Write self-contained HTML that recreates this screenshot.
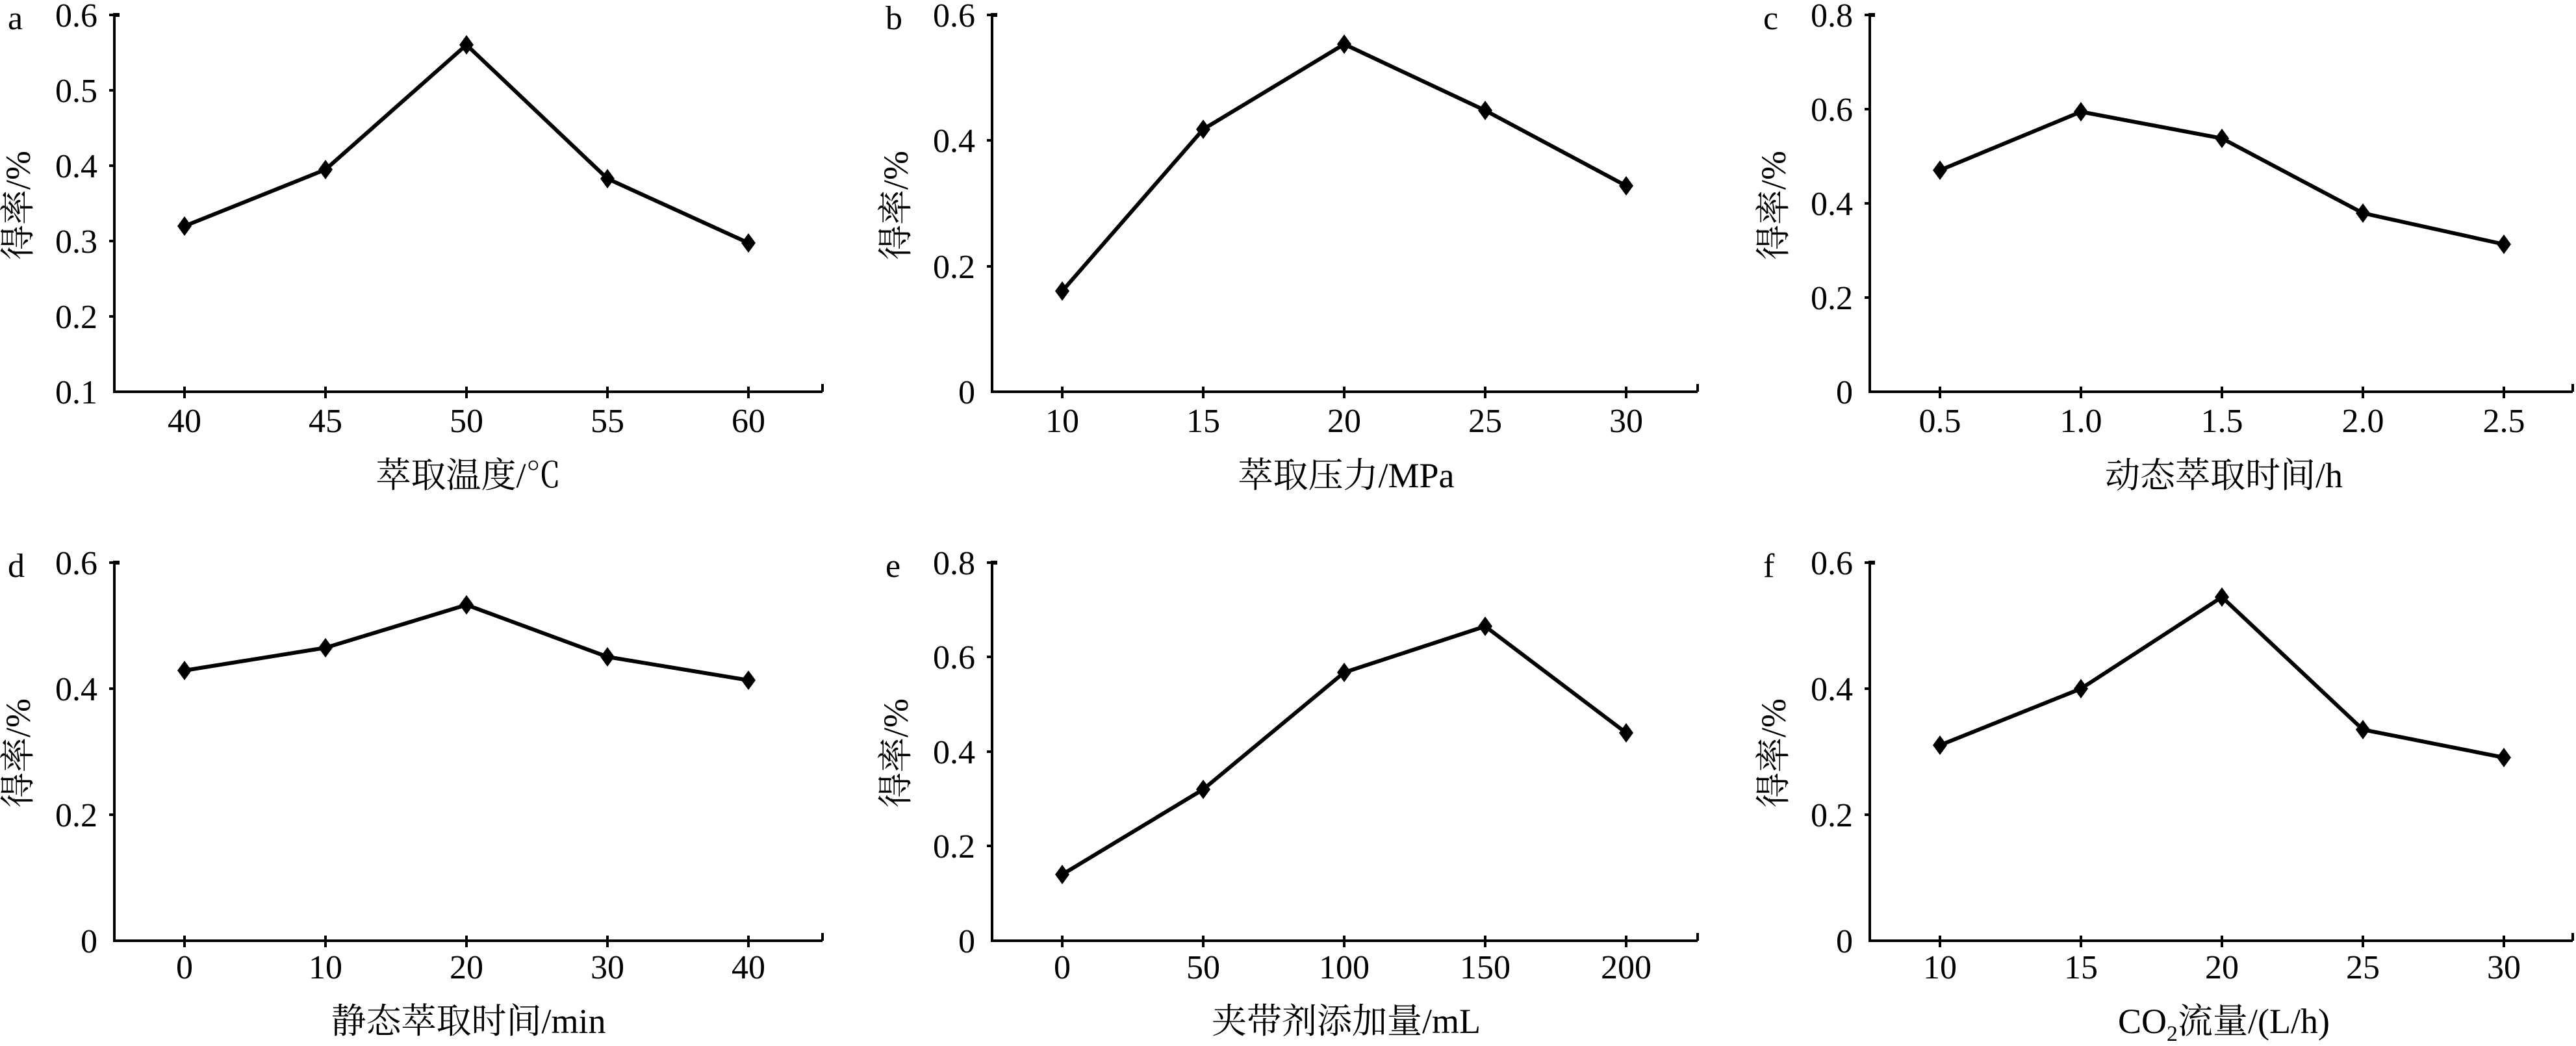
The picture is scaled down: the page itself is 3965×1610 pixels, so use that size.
<!DOCTYPE html>
<html><head><meta charset="utf-8"><style>
html,body{margin:0;padding:0;background:#fff;}
svg{display:block;}
text{font-family:"Liberation Serif","Noto Serif CJK SC",serif;fill:#000;}
.t{font-size:52px;}
.yl{font-size:52px;text-anchor:end;}
.xl{font-size:52px;text-anchor:middle;}
.ti{font-size:54px;text-anchor:middle;}
.ax{stroke:#000;stroke-width:4;fill:none;}
.ln{stroke:#000;stroke-width:6;fill:none;stroke-linejoin:round;}
</style></head><body>
<svg width="3965" height="1610" viewBox="0 0 3965 1610" xmlns="http://www.w3.org/2000/svg">
<defs><polygon id="m" points="0,-15 11,0 0,15 -11,0" fill="#000"/></defs>

<!-- a -->
<g transform="translate(176,23)">
<path class="ax" d="M0,0 V580 H1090 M-8,0 H0 M-8,116 H0 M-8,232 H0 M-8,348 H0 M-8,464 H0 M108,572 V590 M325,572 V590 M542,572 V590 M759,572 V590 M976,572 V590 M1090,568 V580"/>
<path d="M-2,0 H8" stroke="#000" stroke-width="6"/>
<text class="yl" x="-26" y="18">0.6</text><text class="yl" x="-26" y="134">0.5</text><text class="yl" x="-26" y="250">0.4</text><text class="yl" x="-26" y="366">0.3</text><text class="yl" x="-26" y="482">0.2</text><text class="yl" x="-26" y="598">0.1</text>
<text class="xl" x="108" y="642">40</text><text class="xl" x="325" y="642">45</text><text class="xl" x="542" y="642">50</text><text class="xl" x="759" y="642">55</text><text class="xl" x="976" y="642">60</text>
<text class="ti" x="545" y="727">萃取温度/℃</text>
<text class="t" x="-164" y="22">a</text>
<text class="ti" transform="translate(-130,293) rotate(-90)">得率/%</text>
<polyline class="ln" points="108,325 325,238 542,46 759,252 976,351"/>
<use href="#m" x="108" y="325"/><use href="#m" x="325" y="238"/><use href="#m" x="542" y="46"/><use href="#m" x="759" y="252"/><use href="#m" x="976" y="351"/>
</g>

<!-- b -->
<g transform="translate(1527,23)">
<path class="ax" d="M0,0 V580 H1086 M-8,0 H0 M-8,193 H0 M-8,387 H0 M108,572 V590 M325,572 V590 M542,572 V590 M759,572 V590 M976,572 V590 M1086,568 V580"/>
<path d="M-2,0 H8" stroke="#000" stroke-width="6"/>
<text class="yl" x="-26" y="18">0.6</text><text class="yl" x="-26" y="211">0.4</text><text class="yl" x="-26" y="405">0.2</text><text class="yl" x="-26" y="598">0</text>
<text class="xl" x="108" y="642">10</text><text class="xl" x="325" y="642">15</text><text class="xl" x="542" y="642">20</text><text class="xl" x="759" y="642">25</text><text class="xl" x="976" y="642">30</text>
<text class="ti" x="545" y="727">萃取压力/MPa</text>
<text class="t" x="-164" y="22">b</text>
<text class="ti" transform="translate(-130,293) rotate(-90)">得率/%</text>
<polyline class="ln" points="108,425 325,176 542,45 759,147 976,263"/>
<use href="#m" x="108" y="425"/><use href="#m" x="325" y="176"/><use href="#m" x="542" y="45"/><use href="#m" x="759" y="147"/><use href="#m" x="976" y="263"/>
</g>

<!-- c -->
<g transform="translate(2878,23)">
<path class="ax" d="M0,0 V580 H1082 M-8,0 H0 M-8,145 H0 M-8,290 H0 M-8,435 H0 M108,572 V590 M325,572 V590 M542,572 V590 M759,572 V590 M976,572 V590 M1082,568 V580"/>
<path d="M-2,0 H8" stroke="#000" stroke-width="6"/>
<text class="yl" x="-26" y="18">0.8</text><text class="yl" x="-26" y="163">0.6</text><text class="yl" x="-26" y="308">0.4</text><text class="yl" x="-26" y="453">0.2</text><text class="yl" x="-26" y="598">0</text>
<text class="xl" x="108" y="642">0.5</text><text class="xl" x="325" y="642">1.0</text><text class="xl" x="542" y="642">1.5</text><text class="xl" x="759" y="642">2.0</text><text class="xl" x="976" y="642">2.5</text>
<text class="ti" x="545" y="727">动态萃取时间/h</text>
<text class="t" x="-164" y="22">c</text>
<text class="ti" transform="translate(-130,293) rotate(-90)">得率/%</text>
<polyline class="ln" points="108,239 325,149 542,190 759,305 976,353"/>
<use href="#m" x="108" y="239"/><use href="#m" x="325" y="149"/><use href="#m" x="542" y="190"/><use href="#m" x="759" y="305"/><use href="#m" x="976" y="353"/>
</g>

<!-- d -->
<g transform="translate(176,866)">
<path class="ax" d="M0,0 V582 H1090 M-8,0 H0 M-8,194 H0 M-8,388 H0 M108,574 V592 M325,574 V592 M542,574 V592 M759,574 V592 M976,574 V592 M1090,570 V582"/>
<path d="M-2,0 H8" stroke="#000" stroke-width="6"/>
<text class="yl" x="-26" y="18">0.6</text><text class="yl" x="-26" y="212">0.4</text><text class="yl" x="-26" y="406">0.2</text><text class="yl" x="-26" y="600">0</text>
<text class="xl" x="108" y="640">0</text><text class="xl" x="325" y="640">10</text><text class="xl" x="542" y="640">20</text><text class="xl" x="759" y="640">30</text><text class="xl" x="976" y="640">40</text>
<text class="ti" x="545" y="724">静态萃取时间/min</text>
<text class="t" x="-164" y="22">d</text>
<text class="ti" transform="translate(-130,293) rotate(-90)">得率/%</text>
<polyline class="ln" points="108,166 325,131 542,65 759,145 976,181"/>
<use href="#m" x="108" y="166"/><use href="#m" x="325" y="131"/><use href="#m" x="542" y="65"/><use href="#m" x="759" y="145"/><use href="#m" x="976" y="181"/>
</g>

<!-- e -->
<g transform="translate(1527,866)">
<path class="ax" d="M0,0 V582 H1086 M-8,0 H0 M-8,145 H0 M-8,291 H0 M-8,436 H0 M108,574 V592 M325,574 V592 M542,574 V592 M759,574 V592 M976,574 V592 M1086,570 V582"/>
<path d="M-2,0 H8" stroke="#000" stroke-width="6"/>
<text class="yl" x="-26" y="18">0.8</text><text class="yl" x="-26" y="163">0.6</text><text class="yl" x="-26" y="309">0.4</text><text class="yl" x="-26" y="454">0.2</text><text class="yl" x="-26" y="600">0</text>
<text class="xl" x="108" y="640">0</text><text class="xl" x="325" y="640">50</text><text class="xl" x="542" y="640">100</text><text class="xl" x="759" y="640">150</text><text class="xl" x="976" y="640">200</text>
<text class="ti" x="545" y="724">夹带剂添加量/mL</text>
<text class="t" x="-164" y="22">e</text>
<text class="ti" transform="translate(-130,293) rotate(-90)">得率/%</text>
<polyline class="ln" points="108,480 325,349 542,169 759,98 976,262"/>
<use href="#m" x="108" y="480"/><use href="#m" x="325" y="349"/><use href="#m" x="542" y="169"/><use href="#m" x="759" y="98"/><use href="#m" x="976" y="262"/>
</g>

<!-- f -->
<g transform="translate(2878,866)">
<path class="ax" d="M0,0 V582 H1082 M-8,0 H0 M-8,194 H0 M-8,388 H0 M108,574 V592 M325,574 V592 M542,574 V592 M759,574 V592 M976,574 V592 M1082,570 V582"/>
<path d="M-2,0 H8" stroke="#000" stroke-width="6"/>
<text class="yl" x="-26" y="18">0.6</text><text class="yl" x="-26" y="212">0.4</text><text class="yl" x="-26" y="406">0.2</text><text class="yl" x="-26" y="600">0</text>
<text class="xl" x="108" y="640">10</text><text class="xl" x="325" y="640">15</text><text class="xl" x="542" y="640">20</text><text class="xl" x="759" y="640">25</text><text class="xl" x="976" y="640">30</text>
<text class="ti" x="545" y="724">CO<tspan font-size="34" dy="12">2</tspan><tspan dy="-12">流量/(L/h)</tspan></text>
<text class="t" x="-164" y="22">f</text>
<text class="ti" transform="translate(-130,293) rotate(-90)">得率/%</text>
<polyline class="ln" points="108,281 325,194 542,53 759,257 976,300"/>
<use href="#m" x="108" y="281"/><use href="#m" x="325" y="194"/><use href="#m" x="542" y="53"/><use href="#m" x="759" y="257"/><use href="#m" x="976" y="300"/>
</g>
</svg>
</body></html>
